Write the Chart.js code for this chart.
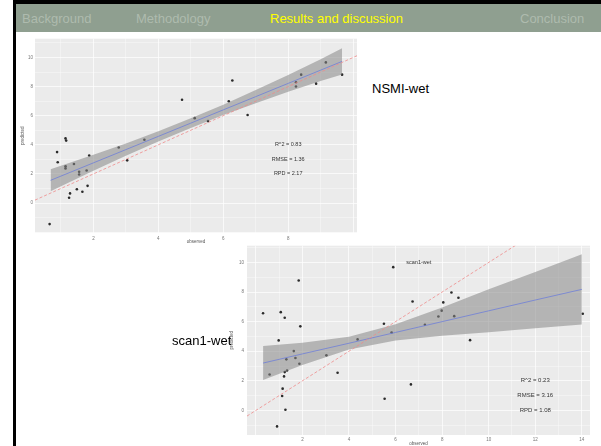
<!DOCTYPE html>
<html>
<head>
<meta charset="utf-8">
<script src="https://cdn.jsdelivr.net/npm/chart.js@4"></script>
<style>
  html, body { margin: 0; padding: 0; }
  body { width: 601px; height: 446px; position: relative; overflow: hidden; background: #fff;
         font-family: "Liberation Sans", Arial, sans-serif; }
  .abs { position: absolute; }
  #frameTop { left: 13px; top: 0; width: 588px; height: 4px; background: #000; }
  #frameLeft { left: 13px; top: 0; width: 3px; height: 446px; background: #000; }
  #bar { left: 16px; top: 4px; width: 585px; height: 28px; background: #8f9f90; }
  .nav { top: 11px; font-size: 13px; color: #aebbae; white-space: nowrap; }
  .nav.on { color: #ffff00; }
  .label { font-size: 13px; color: #000; white-space: nowrap; }
  canvas { position: absolute; }
</style>
</head>
<body>
<div id="frameTop" class="abs"></div>
<div id="frameLeft" class="abs"></div>
<div id="bar" class="abs"></div>
<span class="abs nav" style="left:22px">Background</span>
<span class="abs nav" style="left:136px">Methodology</span>
<span class="abs nav on" style="left:270px">Results and discussion</span>
<span class="abs nav" style="left:520px">Conclusion</span>

<canvas id="nsmi" width="345" height="218" style="left:20px; top:34px"></canvas>
<canvas id="scan" width="372" height="206" style="left:229px; top:240px"></canvas>

<span class="abs label" style="left:372px; top:81px">NSMI-wet</span>
<span class="abs label" style="left:172px; top:333px">scan1-wet</span>

<script>
// NSMI-wet
const nsmiObserved = [0.65, 0.88, 0.90, 1.14, 1.16, 1.14, 1.14, 1.25, 1.28, 1.40, 1.49, 1.56, 1.56, 1.66, 1.79,
  1.82, 1.87, 2.78, 3.04, 3.57, 4.73, 5.12, 5.53, 6.17, 6.28, 6.75, 8.24, 8.24, 8.40, 8.86, 9.16, 9.66];
const nsmiPredicted = [-1.45, 3.50, 2.80, 4.44, 4.29, 2.52, 2.38, 0.36, 0.66, 2.68, 0.95, 2.14, 1.96, 0.77, 2.23,
  1.18, 3.27, 3.81, 2.93, 4.35, 7.10, 5.83, 5.63, 6.99, 8.42, 6.05, 8.30, 8.01, 8.82, 8.20, 9.66, 8.82];
const nsmiBandX = [0.68, 2, 3, 4, 5, 6, 7, 8, 9, 9.66];
const nsmiFit   = [1.56, 2.76, 3.67, 4.58, 5.49, 6.40, 7.31, 8.22, 9.13, 9.73];
const nsmiUpper = [2.32, 3.31, 4.09, 4.93, 5.82, 6.76, 7.76, 8.80, 9.88, 10.63];
const nsmiLower = [0.80, 2.21, 3.25, 4.23, 5.16, 6.04, 6.86, 7.64, 8.38, 8.83];
const nsmiXTicks = [2, 4, 6, 8];
const nsmiYTicks = [0, 2, 4, 6, 8, 10];
const nsmiStats = ['R^2 = 0.83', 'RMSE = 1.36', 'RPD = 2.17'];

// scan1-wet
const scanObserved = [0.31, 0.59, 0.91, 0.98, 1.07, 1.13, 1.15, 1.21, 1.24, 1.24, 1.27, 1.31, 1.34, 1.63, 1.70,
  1.84, 1.87, 1.91, 3.03, 3.51, 4.37, 5.50, 5.53, 5.83, 5.90, 6.66, 6.73, 7.26, 7.84, 7.98, 8.05, 8.40, 8.52,
  8.70, 9.20, 14.04];
const scanPredicted = [6.57, 2.43, -1.08, 4.73, 6.64, 0.97, 1.47, 2.30, 6.26, 2.59, 0.05, 3.45, 2.70, 4.01, 3.54,
  8.78, 3.15, 5.68, 3.72, 2.55, 4.80, 5.86, 0.79, 5.27, 9.68, 1.76, 7.36, 5.79, 6.35, 6.74, 7.30, 7.97, 6.37,
  7.61, 4.75, 6.53];
const scanBandX = [0.31, 2, 4, 6, 8, 10, 12, 14.0];
const scanFit   = [3.20, 3.82, 4.54, 5.27, 6.00, 6.73, 7.46, 8.18];
const scanUpper = [4.35, 4.57, 4.97, 5.82, 6.95, 8.18, 9.36, 10.55];
const scanLower = [2.05, 3.07, 4.11, 4.72, 5.05, 5.28, 5.56, 5.81];
const scanXTicks = [2, 4, 6, 8, 10, 12, 14];
const scanYTicks = [0, 2, 4, 6, 8, 10];
const scanStats = ['R^2 = 0.23', 'RMSE = 3.16', 'RPD = 1.08'];

const panelBg = {
  id: 'panelBg',
  beforeDraw(chart) {
    const a = chart.chartArea, c = chart.ctx;
    c.save();
    c.fillStyle = '#ebebeb';
    c.fillRect(a.left, a.top, a.right - a.left, a.bottom - a.top);
    c.restore();
  }
};

// text placed at data coordinates, like annotate() in ggplot
const notes = {
  id: 'notes',
  afterDatasetsDraw(chart, args, opts) {
    const c = chart.ctx, sx = chart.scales.x, sy = chart.scales.y;
    c.save();
    c.fillStyle = '#333';
    c.textAlign = 'center';
    c.textBaseline = 'middle';
    (opts.items || []).forEach(n => {
      c.font = n.size + 'px "Liberation Sans", Arial, sans-serif';
      c.fillText(n.text, sx.getPixelForValue(n.x), sy.getPixelForValue(n.y));
    });
    c.restore();
  }
};

function pairs(xs, ys) { return xs.map((x, i) => ({x: x, y: ys[i]})); }

function axis(min, max, labels, title, size, titlePad, tickPad) {
  return {
    type: 'linear', min: min, max: max,
    afterFit: s => { if (s.isHorizontal()) s.height = size; else s.width = size; },
    ticks: {
      stepSize: 1, includeBounds: false, autoSkip: false, maxRotation: 0,
      font: {size: 4.5}, color: '#777', padding: tickPad,
      callback: v => labels.includes(v) ? String(v) : ''
    },
    grid: {
      color: '#ffffff', drawTicks: false,
      lineWidth: c => (c.tick && c.tick.value % 2 === 0) ? 0.7 : 0.35
    },
    border: {display: false},
    title: {display: true, text: title, font: {size: 4.5}, color: '#555', padding: titlePad}
  };
}

function plot(id, o) {
  new Chart(document.getElementById(id).getContext('2d'), {
    type: 'line',
    data: {
      datasets: [
        { data: pairs(o.diag, o.diag), borderColor: '#ef8a8a', borderWidth: 0.8, borderDash: [3, 2], pointRadius: 0 },
        { data: pairs(o.bandX, o.fit), borderColor: '#6f7fd8', borderWidth: 0.8, pointRadius: 0 },
        { data: pairs(o.bandX, o.upper), borderColor: 'rgba(0,0,0,0)', pointRadius: 0,
          fill: '+1', backgroundColor: 'rgba(135,135,135,0.55)' },
        { data: pairs(o.bandX, o.lower), borderColor: 'rgba(0,0,0,0)', pointRadius: 0, fill: false },
        { data: pairs(o.obs, o.pred), showLine: false, pointRadius: 1.3, pointBorderWidth: 0,
          pointBackgroundColor: '#2a2a2a' }
      ]
    },
    options: {
      responsive: false, animation: false, devicePixelRatio: 1,
      layout: {padding: o.padding},
      plugins: {legend: {display: false}, tooltip: {enabled: false}, notes: {items: o.notes}},
      scales: {x: o.x, y: o.y}
    },
    plugins: [panelBg, notes]
  });
}

plot('nsmi', {
  obs: nsmiObserved, pred: nsmiPredicted,
  bandX: nsmiBandX, fit: nsmiFit, upper: nsmiUpper, lower: nsmiLower,
  diag: [0.2, 10.12],
  padding: {top: 3, right: 8, left: 0, bottom: 0},
  x: axis(0.2, 10.12, nsmiXTicks, 'observed', 19, {top: 0, bottom: 8}, 3),
  y: axis(-2.06, 11.29, nsmiYTicks, 'predicted', 15, {top: 0, bottom: 2}, 2),
  notes: [
    {text: nsmiStats[0], x: 8, y: 4, size: 5.5},
    {text: nsmiStats[1], x: 8, y: 3, size: 5.5},
    {text: nsmiStats[2], x: 8, y: 2, size: 5.5}
  ]
});

plot('scan', {
  obs: scanObserved, pred: scanPredicted,
  bandX: scanBandX, fit: scanFit, upper: scanUpper, lower: scanLower,
  diag: [-0.38, 11.2],
  padding: {top: 5, right: 11, left: 0, bottom: 0},
  x: axis(-0.38, 14.35, scanXTicks, 'observed', 11, {top: 0, bottom: 0}, 2),
  y: axis(-1.66, 11.13, scanYTicks, 'predicted', 18, {top: 0, bottom: 2}, 3),
  notes: [
    {text: 'scan1-wet', x: 7, y: 10, size: 5.5},
    {text: scanStats[0], x: 12, y: 2, size: 6},
    {text: scanStats[1], x: 12, y: 1, size: 6},
    {text: scanStats[2], x: 12, y: 0, size: 6}
  ]
});
</script>
</body>
</html>
